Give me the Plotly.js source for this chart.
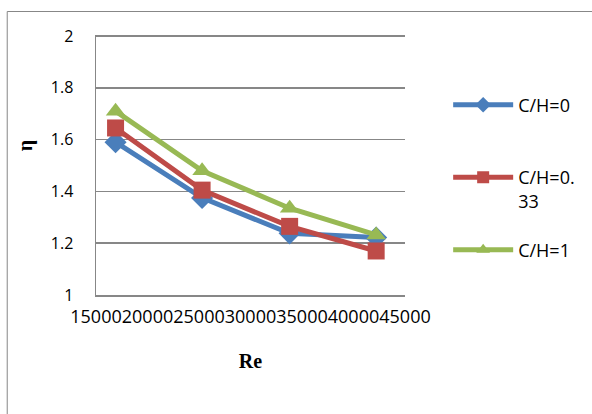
<!DOCTYPE html>
<html>
<head>
<meta charset="utf-8">
<script src="https://cdn.plot.ly/plotly-3.0.1.min.js"></script>
<style>
  html, body { margin: 0; padding: 0; background: #ffffff; }
  #chart { width: 592px; height: 414px; }
</style>
</head>
<body>
<div id="chart"></div>
<script>
// Reynolds number at each measurement point
const reValues = [16900, 25300, 33800, 42200];

// Efficiency index η for each clearance ratio C/H
const etaCH0 = [1.59, 1.375, 1.238, 1.222];
const etaCH033 = [1.645, 1.405, 1.265, 1.17];
const etaCH1 = [1.71, 1.48, 1.335, 1.232];

const seriesNames = ['C/H=0', 'C/H=0.<br>33', 'C/H=1'];
const yTicks = [1, 1.2, 1.4, 1.6, 1.8, 2];
const xTicks = [15000, 20000, 25000, 30000, 35000, 40000, 45000];

const blue = '#4a7ebb';
const red = '#be4b48';
const green = '#98b954';
const grid = '#878787';

function series(y, name, color, symbol, legendId) {
  return {
    x: reValues, y: y, name: name, type: 'scatter', mode: 'lines+markers',
    line: { color: color, width: 5 },
    marker: { color: color, symbol: symbol, size: 17 },
    legend: legendId
  };
}

const traces = [
  series(etaCH0, seriesNames[0], blue, 'diamond', 'legend'),
  series(etaCH033, seriesNames[1], red, 'square', 'legend2'),
  series(etaCH1, seriesNames[2], green, 'triangle-up', 'legend3')
];

// map pixel positions of the frame into paper coordinates
const L = 96, T = 35, W = 315, H = 260;
const px = v => (v - L) / W;
const py = v => (T + H - v) / H;

const legendBase = {
  font: { family: 'Open Sans, sans-serif', size: 18, color: '#000000' },
  bgcolor: 'rgba(0,0,0,0)', borderwidth: 0,
  itemwidth: 60, itemsizing: 'constant', valign: 'top',
  xanchor: 'left', x: px(455)
};

const layout = {
  width: 592, height: 414,
  margin: { l: L, r: 592 - L - W, t: T, b: 414 - T - H },
  paper_bgcolor: '#ffffff', plot_bgcolor: '#ffffff',
  showlegend: true,
  xaxis: {
    range: [15000, 45000], tickvals: xTicks, ticktext: xTicks.map(String),
    tickangle: 0, showgrid: false, zeroline: false,
    showline: true, linecolor: grid, linewidth: 1.5,
    ticks: '', ticklabelstandoff: 5,
    tickfont: { family: 'Open Sans, sans-serif', size: 18, color: '#000000' },
    title: { text: 'Re', standoff: 27,
      font: { family: 'Liberation Serif, Times New Roman, serif', size: 20, color: '#000000', weight: 'bold' } }
  },
  yaxis: {
    range: [1, 2.004], tickvals: yTicks, ticktext: ['1', '1.2', '1.4', '1.6', '1.8', '2'],
    showgrid: true, gridcolor: grid, gridwidth: 1.5, zeroline: false,
    showline: true, linecolor: grid, linewidth: 1.5,
    ticks: '', ticklabelstandoff: 18,
    tickfont: { family: 'Open Sans, sans-serif', size: 16, color: '#000000' }
  },
  legend: Object.assign({}, legendBase, { y: py(105), yanchor: 'middle' }),
  legend2: Object.assign({}, legendBase, { y: py(159), yanchor: 'top' }),
  legend3: Object.assign({}, legendBase, { y: py(250), yanchor: 'middle' }),
  annotations: [{
    text: '<b>η</b>', xref: 'paper', yref: 'paper',
    x: px(24), y: py(146), xanchor: 'center', yanchor: 'middle',
    textangle: -90, showarrow: false,
    font: { family: 'Liberation Serif, Times New Roman, serif', size: 20, color: '#000000' }
  }],
  shapes: [{
    type: 'rect', xref: 'paper', yref: 'paper', layer: 'below',
    x0: px(5.5), x1: px(640), y0: py(11.5), y1: py(460),
    line: { color: grid, width: 1 }, fillcolor: 'rgba(0,0,0,0)'
  }]
};

Plotly.newPlot('chart', traces, layout, { displayModeBar: false, staticPlot: true });
</script>
</body>
</html>
